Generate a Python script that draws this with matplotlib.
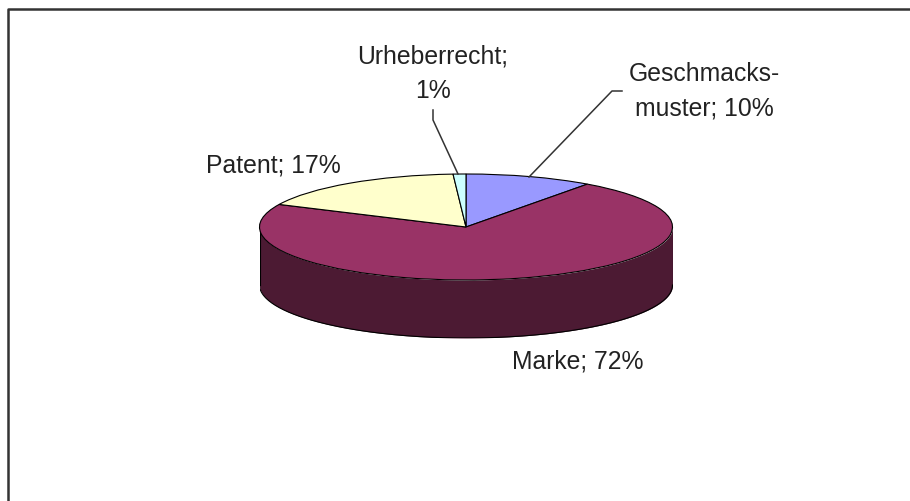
import numpy as np
import matplotlib
matplotlib.use('Agg')
import matplotlib.pyplot as plt

W, H = 910, 501

labels = ['Geschmacks-\nmuster; 10%', 'Marke; 72%', 'Patent; 17%', 'Urheberrecht;\n1%']
values = [10, 72, 17, 1]
colors = ['#9999ff', '#993366', '#ffffcc', '#ccffff']
side_color = '#4c1a33'

# pie ellipse in pixels
cx, cy, rx, ry, depth = 466, 227, 206.5, 53, 58

plt.rcParams['font.family'] = ['Liberation Sans', 'DejaVu Sans']

fig = plt.figure(figsize=(W / 100, H / 100), dpi=100)

# page layer in pixel coordinates for frame and labels
bg = fig.add_axes([0, 0, 1, 1])
bg.set_xlim(0, W)
bg.set_ylim(H, 0)
bg.axis('off')
bg.plot([8, 8, 910], [501, 9, 9], color='#333333', lw=1.8, solid_capstyle='butt')

# pie axes sit exactly on the squashed ellipse, extended down for the side wall
ax = fig.add_axes([(cx - rx) / W, 1 - (cy + ry + depth) / H, 2 * rx / W, (2 * ry + depth) / H])
ax.patch.set_alpha(0)
d = depth / ry
wedges, _ = ax.pie(values, colors=colors, startangle=90, counterclock=False, radius=1,
                   wedgeprops={'edgecolor': 'black', 'linewidth': 0.8, 'zorder': 3})
ax.set_aspect('auto')
ax.set_xlim(-1, 1)
ax.set_ylim(-1 - d, 1)

t = np.linspace(np.pi, 2 * np.pi, 200)
ax.fill_between(np.cos(t), np.sin(t) - d, np.sin(t), color=side_color, zorder=2, lw=0)
ax.plot(np.cos(t), np.sin(t) - d, color='black', lw=0.8, zorder=2.5)
ax.plot([-1, -1], [0, -d], color='black', lw=0.8, zorder=2.5)
ax.plot([1, 1], [0, -d], color='black', lw=0.8, zorder=2.5)

# labels
fs = 17.8
bg.text(704, 91.5, labels[0], ha='center', va='center', fontsize=fs, color='#222222', linespacing=1.57, zorder=5)
bg.text(578, 361, labels[1], ha='center', va='center', fontsize=fs, color='#222222', zorder=5)
bg.text(273, 165, labels[2], ha='center', va='center', fontsize=fs, color='#222222', zorder=5)
bg.text(433, 74, labels[3], ha='center', va='center', fontsize=fs, color='#222222', linespacing=1.55, zorder=5)

# leader lines
bg.plot([529, 612, 622], [177, 91, 91], color='#333333', lw=1.1)
bg.plot([458, 433, 433], [174, 120, 110], color='#333333', lw=1.1)
bg.set_zorder(3)

fig.savefig('out.png', dpi=100)
